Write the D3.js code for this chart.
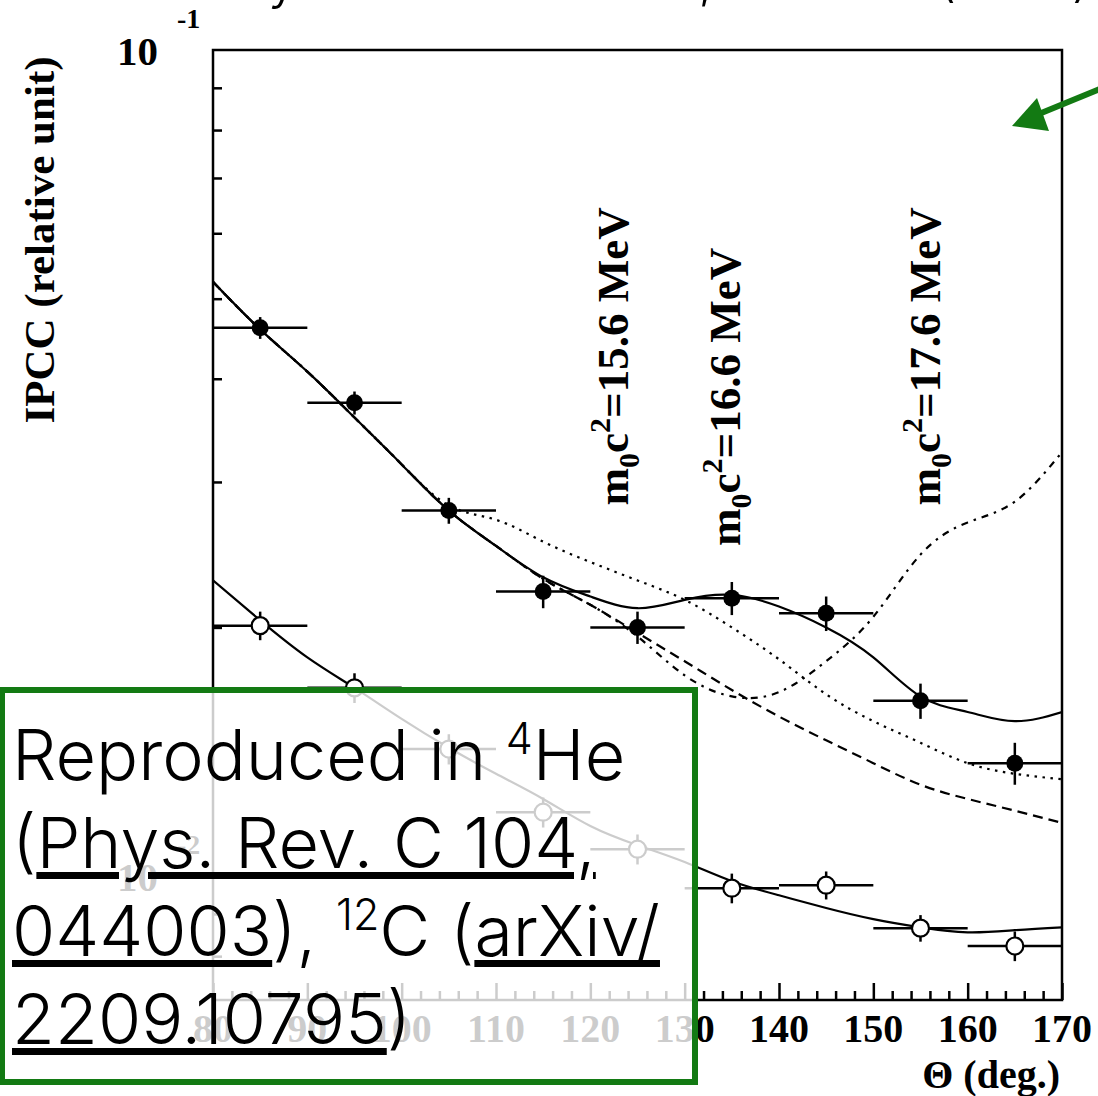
<!DOCTYPE html>
<html>
<head>
<meta charset="utf-8">
<script src="https://cdn.jsdelivr.net/npm/d3@7"></script>
<style>
  body { margin: 0; background: #fff; }
  .serif { font-family: "Liberation Serif", "Times New Roman", serif; font-weight: bold; }
  .sans { font-family: Inter, "Liberation Sans", Arial, sans-serif; font-weight: 300; }
</style>
</head>
<body>
<div id="graph"></div>
<script>
const MARGIN = { LEFT: 213, RIGHT: 36, TOP: 50, BOTTOM: 96 }
const WIDTH = 1098 - MARGIN.LEFT - MARGIN.RIGHT
const HEIGHT = 1096 - MARGIN.TOP - MARGIN.BOTTOM
const GREEN = "#137a13"

// model curves, sampled every 5 deg
const thetaCurve = [80, 85, 90, 95, 100, 105, 110, 115, 120, 125, 130, 135, 140, 145, 150, 155, 160, 165, 170]
const fitSolid   = [0.0524, 0.0459, 0.0408, 0.0359, 0.0315, 0.0277, 0.0251, 0.0230, 0.0218, 0.0211, 0.0216, 0.0219, 0.0212, 0.0200, 0.0184, 0.0165, 0.0158, 0.0154, 0.0158]
const fitDotted  = [0.0524, 0.0459, 0.0408, 0.0359, 0.0315, 0.0281, 0.0270, 0.0254, 0.0240, 0.0228, 0.0216, 0.0200, 0.0183, 0.0166, 0.0154, 0.0145, 0.0137, 0.0133, 0.0131]
const fitDashed  = [0.0524, 0.0459, 0.0408, 0.0359, 0.0315, 0.0277, 0.0251, 0.0229, 0.0213, 0.0197, 0.0182, 0.0168, 0.0156, 0.0146, 0.0137, 0.0129, 0.0124, 0.0120, 0.0116]
const fitDashDot = [0.0524, 0.0459, 0.0408, 0.0359, 0.0315, 0.0277, 0.0251, 0.0229, 0.0213, 0.0195, 0.0175, 0.0165, 0.0167, 0.0182, 0.0206, 0.0245, 0.0268, 0.0284, 0.0326]
const fitLower   = [0.0228, 0.0204, 0.0184, 0.0169, 0.0155, 0.0143, 0.0133, 0.0124, 0.0115, 0.0109, 0.0104, 0.00986, 0.00948, 0.00915, 0.00887, 0.00867, 0.00855, 0.00860, 0.00867]

// measured points (bins of 10 deg)
const thetaPts      = [85, 95, 105, 115, 125, 135, 145, 155, 165]
const ipccFilled    = [0.0461, 0.0374, 0.0277, 0.0221, 0.0200, 0.0217, 0.0208, 0.0163, 0.0137]
const ipccFilledErr = [0.0014, 0.0012, 0.0010, 0.0010, 0.0009, 0.0010, 0.0010, 0.0008, 0.0008]
const ipccOpen      = [0.0201, 0.0169, 0.01425, 0.01195, 0.01078, 0.00967, 0.00975, 0.00865, 0.00823]
const ipccOpenErr   = [0.0008, 0.0007, 0.0006, 0.0005, 0.00045, 0.0004, 0.00038, 0.00032, 0.00034]
const binHalf = 5

const xTickLabels = [80, 90, 100, 110, 120, 130, 140, 150, 160, 170]
const massLabels = ["15.6", "16.6", "17.6"]
const massTheta = [124, 135.9, 157.1]
const massAt = [0.0281, 0.0251, 0.0281]

const svg = d3.select("#graph").append("svg")
    .attr("width", 1098)
    .attr("height", 1096)

const g = svg.append("g")
    .attr("transform", `translate(${MARGIN.LEFT}, ${MARGIN.TOP})`)

const x = d3.scaleLinear()
    .domain([80, 170])
    .range([0, WIDTH])

const y = d3.scaleLog()
    .domain([0.00708, 0.1])
    .range([HEIGHT, 0])

g.append("clipPath").attr("id", "plot")
    .append("rect").attr("width", WIDTH).attr("height", HEIGHT)

// frame
g.append("rect")
    .attr("width", WIDTH).attr("height", HEIGHT)
    .attr("fill", "none").attr("stroke", "black").attr("stroke-width", 2.5)

// Y ticks (inward)
const yMinor = [0.008, 0.009, 0.02, 0.03, 0.04, 0.05, 0.06, 0.07, 0.08, 0.09]
g.append("g").call(d3.axisRight(y).tickValues(yMinor).tickSize(9).tickFormat(""))
g.append("g").call(d3.axisRight(y).tickValues([0.01]).tickSize(18).tickFormat(""))

// X ticks (inward)
const xMinor = d3.range(82, 170, 2).filter(v => v % 10 != 0)
g.append("g").attr("transform", `translate(0, ${HEIGHT})`)
    .call(d3.axisTop(x).tickValues(xMinor).tickSize(9).tickFormat(""))
g.append("g").attr("transform", `translate(0, ${HEIGHT})`)
    .call(d3.axisTop(x).tickValues(xTickLabels).tickSize(17).tickFormat(""))

g.selectAll(".domain").remove()
g.selectAll(".tick line").attr("stroke", "black").attr("stroke-width", 2.5)

// tick labels
g.selectAll("xLab").data(xTickLabels).enter().append("text")
    .attr("class", "serif")
    .attr("x", d => x(d))
    .attr("y", HEIGHT + 42)
    .attr("font-size", "40px")
    .attr("text-anchor", "middle")
    .text(d => d)

const decades = [{ v: 0.1, e: "-1" }, { v: 0.01, e: "-2" }]
decades.forEach(d => {
    g.append("text").attr("class", "serif")
        .attr("x", -55).attr("y", y(d.v) + 15)
        .attr("font-size", "41px").attr("text-anchor", "end")
        .text("10")
    g.append("text").attr("class", "serif")
        .attr("x", -36).attr("y", y(d.v) - 22)
        .attr("font-size", "28px")
        .text(d.e)
})

// axis titles
g.append("text").attr("class", "serif")
    .attr("x", WIDTH - 2).attr("y", HEIGHT + 88)
    .attr("font-size", "40px").attr("text-anchor", "end")
    .text("\u0398 (deg.)")

g.append("text").attr("class", "serif")
    .attr("transform", `translate(${54 - MARGIN.LEFT}, ${240 - MARGIN.TOP}) rotate(-90)`)
    .attr("font-size", "43px").attr("text-anchor", "middle")
    .text("IPCC (relative unit)")

// curves
const curveLine = d3.line()
    .x((d, i) => x(thetaCurve[i]))
    .y(d => y(d))
    .curve(d3.curveNatural)

const curves = g.append("g").attr("clip-path", "url(#plot)")
const styles = [
    { data: fitDotted, dash: "2.5,5.5" },
    { data: fitDashed, dash: "10,6" },
    { data: fitDashDot, dash: "7,6,2.5,6" },
    { data: fitSolid, dash: null },
    { data: fitLower, dash: null }
]
styles.forEach(s => {
    curves.append("path")
        .attr("d", curveLine(s.data))
        .attr("fill", "none")
        .attr("stroke", "black")
        .attr("stroke-width", 2.2)
        .attr("stroke-dasharray", s.dash)
})

// error bars + points
function drawSeries(values, errs, open) {
    const pts = values.map((v, i) => ({ t: thetaPts[i], v: v, e: errs[i] }))
    const grp = g.append("g")
    grp.selectAll("hbar").data(pts).enter().append("line")
        .attr("x1", d => x(d.t - binHalf)).attr("x2", d => x(d.t + binHalf))
        .attr("y1", d => y(d.v)).attr("y2", d => y(d.v))
        .attr("stroke", "black").attr("stroke-width", 2.5)
    grp.selectAll("vbar").data(pts).enter().append("line")
        .attr("x1", d => x(d.t)).attr("x2", d => x(d.t))
        .attr("y1", d => y(d.v - d.e)).attr("y2", d => y(d.v + d.e))
        .attr("stroke", "black").attr("stroke-width", 2.5)
    grp.selectAll("pt").data(pts).enter().append("circle")
        .attr("cx", d => x(d.t)).attr("cy", d => y(d.v))
        .attr("r", 8.5)
        .attr("fill", open ? "white" : "black")
        .attr("stroke", "black").attr("stroke-width", open ? 2.2 : 0)
}
drawSeries(ipccFilled, ipccFilledErr, false)
drawSeries(ipccOpen, ipccOpenErr, true)

// mass labels
massLabels.forEach((m, i) => {
    const t = g.append("text").attr("class", "serif")
        .attr("transform", `translate(${x(massTheta[i])}, ${y(massAt[i])}) rotate(-90)`)
        .attr("font-size", "45px")
    t.append("tspan").text("m")
    t.append("tspan").attr("dy", 11).attr("font-size", "30px").text("0")
    t.append("tspan").attr("dy", -11).text("c")
    t.append("tspan").attr("dy", -18).attr("font-size", "30px").text("2")
    t.append("tspan").attr("dy", 18).text(`=${m} MeV`)
})

// clipped slide title above
svg.append("text").attr("class", "sans")
    .attr("x", 1090).attr("y", -2)
    .attr("font-size", "52px").attr("text-anchor", "end")
    .text("Anomaly observed in \u2078Be, ATOMKI (2016)")

// arrow
svg.append("line")
    .attr("x1", 1100).attr("y1", 89).attr("x2", 1034).attr("y2", 116)
    .attr("stroke", GREEN).attr("stroke-width", 6)
svg.append("path")
    .attr("d", "M1012,126 L1037,98 L1049,131 Z")
    .attr("fill", GREEN)

// note box
svg.append("rect")
    .attr("x", 2).attr("y", 690).attr("width", 693).attr("height", 392)
    .attr("fill", "white").attr("fill-opacity", 0.8)
    .attr("stroke", GREEN).attr("stroke-width", 6)

const note = svg.append("text").attr("class", "sans")
    .attr("font-size", "70px").attr("fill", "black")
const sup = (sel, s) => sel.append("tspan").attr("baseline-shift", "super").attr("font-size", "43px").text(s)

const l1 = note.append("tspan").attr("x", 12).attr("y", 780)
l1.append("tspan").text("Reproduced in ")
sup(l1, "4")
l1.append("tspan").text("He")

const l2 = note.append("tspan").attr("x", 12).attr("y", 868)
l2.append("tspan").text("(")
l2.append("tspan").attr("text-decoration", "underline").text("Phys. Rev. C 104,")

const l3 = note.append("tspan").attr("x", 12).attr("y", 956)
l3.append("tspan").attr("text-decoration", "underline").text("044003")
l3.append("tspan").text("), ")
sup(l3, "12")
l3.append("tspan").text("C (")
l3.append("tspan").attr("text-decoration", "underline").text("arXiv/")

const l4 = note.append("tspan").attr("x", 12).attr("y", 1044)
l4.append("tspan").attr("text-decoration", "underline").text("2209.10795")
l4.append("tspan").text(")")
</script>
</body>
</html>
